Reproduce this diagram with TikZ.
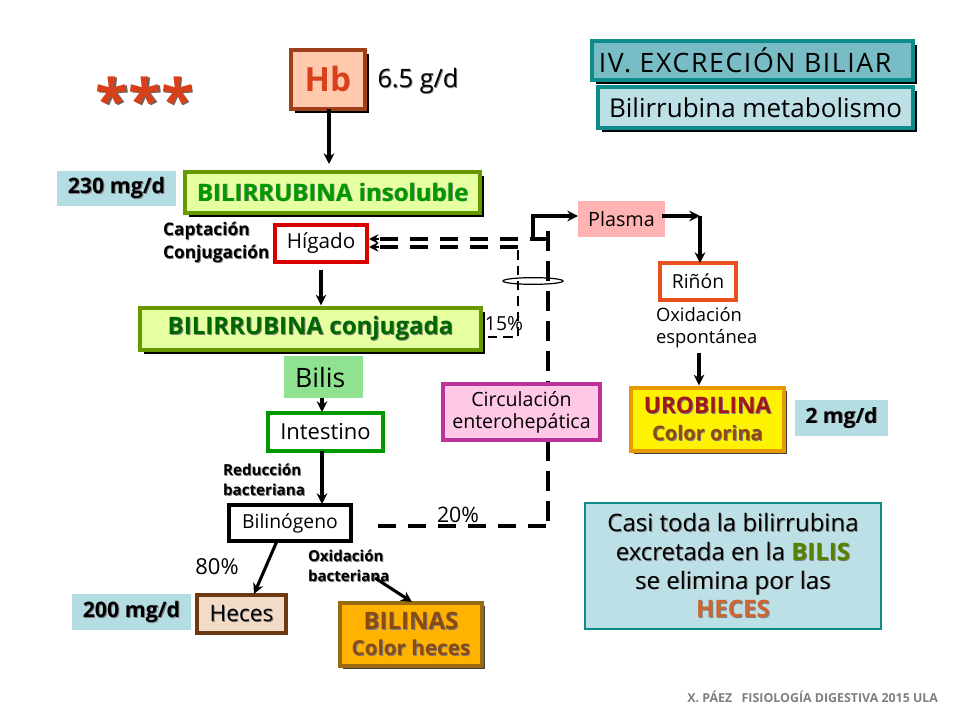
\documentclass[tikz,border=0pt]{standalone}
\usepackage{fontspec}
\usetikzlibrary{arrows.meta,shadows,calc,shapes.geometric}
\setmainfont{Open Sans}
\newcommand\fz[1]{\fontsize{#1}{#1}\selectfont}
\newcommand\fl[2]{\fontsize{#1}{#2}\selectfont}
\newcommand\boxn[7]{\node[#1,minimum width=0.75pt*(#4-#2),minimum height=0.75pt*(#5-#3)] (#6) at ({(#2+#4)/2},{(#3+#5)/2}) {#7};}
\newcommand\sdw[2]{\leavevmode\rlap{\kern0.7pt\raisebox{-0.7pt}{\textcolor{black!50}{#2}}}\textcolor{#1}{#2}}
\newcommand\sdwb[2]{\leavevmode\rlap{\kern1.1pt\raisebox{-1.1pt}{\textcolor{black!60}{#2}}}\textcolor{#1}{#2}}
\definecolor{hbf}{HTML}{FFC9AD}\definecolor{hbd}{HTML}{A0401A}
\definecolor{grf}{HTML}{E6FFA0}\definecolor{grd}{HTML}{669900}
\definecolor{tealb}{HTML}{0D8C8C}\definecolor{tealm}{HTML}{78BCC6}\definecolor{teall}{HTML}{BDE0E6}
\definecolor{lab}{HTML}{B4DCE3}
\definecolor{hecf}{HTML}{F2DCC8}\definecolor{hecd}{HTML}{6B3A12}
\definecolor{binf}{HTML}{FFB300}\definecolor{bind}{HTML}{9A6A10}\definecolor{bint}{HTML}{8B4A10}
\definecolor{urod}{HTML}{E69A00}\definecolor{urot}{HTML}{A01818}\definecolor{urot2}{HTML}{8F4A10}
\definecolor{cirf}{HTML}{FFC9E6}\definecolor{cird}{HTML}{BB3399}
\definecolor{bilf}{HTML}{8FE28F}\definecolor{plaf}{HTML}{FFB3B3}
\definecolor{rind}{HTML}{E8501E}\definecolor{intd}{HTML}{009900}
\definecolor{starc}{HTML}{D8401A}
\tikzset{
  bx/.style={rectangle,inner sep=0pt,outer sep=0pt,line width=2.4pt,align=center,text=black},
  sh/.style={general shadow={fill=black,shadow xshift=3pt,shadow yshift=-3pt}},
  shthin/.style={general shadow={fill=black!75,shadow xshift=2pt,shadow yshift=-2pt}},
  hbbox/.style={bx,draw=hbd,fill=hbf,sh},
  greenbox/.style={bx,draw=grd,fill=grf,sh},
  tealbox/.style={bx,draw=tealb,sh},
  labbox/.style={bx,fill=lab},
  whitebox/.style={bx,fill=white},
  txt/.style={inner sep=0pt,outer sep=0pt,align=left,text=black},
  arr/.style={line width=2.3pt,-{Stealth[length=8pt,width=8pt]}},
  dashseg/.style={line width=2.7pt},
  dash2/.style={line width=1.7pt,dash pattern=on 7pt off 4.5pt},
  backarr/.style={line width=2pt,-{Stealth[length=7pt,width=7pt]}},
}
\begin{document}
\begin{tikzpicture}[x=0.75pt,y=-0.75pt]
\useasboundingbox (0,0) rectangle (960,720);
% title boxes
\boxn{tealbox,fill=tealm,font=\fz{20}\addfontfeature{LetterSpace=6}}{592}{41}{913}{80}{title}{\hspace*{-11pt}IV. EXCRECIÓN BILIAR}
\boxn{tealbox,fill=teall,font=\fz{19.5}}{598}{87}{913}{128}{sub}{Bilirrubina metabolismo}
% stars
\node[txt,font=\fz{45}\bfseries] (stars) at (145,100) {\sdwb{starc}{***}};
% Hb
\boxn{hbbox,font=\fz{25}\bfseries}{291}{50}{365}{109}{hb}{\textcolor{starc}{Hb}}
\node[txt,font=\fz{19}] (gd) at (418,81) {\sdw{black}{6.5 g/d}};
% bilirrubina
\boxn{greenbox,font=\fz{18}\bfseries}{185}{172}{480}{213}{insol}{\sdw{green!60!black}{BILIRRUBINA insoluble}}
\boxn{labbox,font=\fz{16}\bfseries}{57}{171}{176}{206}{m230}{\sdw{black}{230 mg/d}}
\node[txt,anchor=west,font=\fl{13}{17}\bfseries] (capt) at (163,243) {\sdw{black}{Captación}\\\sdw{black}{Conjugación}};
\boxn{whitebox,draw=red!85!black,font=\fz{15.5}}{275}{225}{367}{262}{hig}{Hígado}
\boxn{greenbox,font=\fz{18}\bfseries}{140}{308}{481}{350}{conj}{\sdw{green!40!black}{BILIRRUBINA conjugada}}
\boxn{bx,fill=bilf,font=\fz{20}}{284}{356}{363}{398}{bilis}{\hspace*{-5pt}Bilis}
\boxn{whitebox,draw=intd,font=\fz{16.5}}{268}{413}{383}{451}{inte}{Intestino}
\node[txt,anchor=west,font=\fl{11.4}{15}\bfseries] (redu) at (223,480) {\sdw{black}{Reducción}\\\sdw{black}{bacteriana}};
\boxn{whitebox,draw=black,font=\fz{14.5}}{229}{505}{351}{541}{bili}{Bilinógeno}
\node[txt,font=\fz{16.5}] (p80) at (217,567) {80\%};
\boxn{labbox,font=\fz{16}\bfseries}{72}{594}{191}{630}{m200}{\sdw{black}{200 mg/d}}
\boxn{bx,fill=hecf,draw=hecd,font=\fz{17}}{197}{595}{286}{633}{hec}{\sdw{black}{Heces}}
\node[txt,anchor=west,font=\fl{11.3}{15}\bfseries] (oxib) at (308,566) {\sdw{black}{Oxidación}\\\sdw{black}{bacteriana}};
\boxn{bx,fill=binf,draw=bind,shthin,font=\fl{15.5}{20}\bfseries}{340}{603}{482}{666}{bilin}{\sdw{bint}{\fl{18}{20}BILINAS}\\\sdw{bint}{Color heces}}
% right side
\boxn{bx,fill=plaf,font=\fz{14.8}}{578}{201}{665}{237}{plas}{Plasma}
\boxn{whitebox,draw=rind,font=\fz{14.5}}{660}{263}{736}{300}{rin}{Riñón}
\node[txt,anchor=west,font=\fl{13.8}{16.5}] (oxie) at (656,328) {Oxidación\\espontánea};
\boxn{bx,fill=yellow,draw=urod,shthin,font=\fl{15}{20}\bfseries}{631}{388}{784}{451}{urob}{\sdw{urot}{\fl{17}{20}UROBILINA}\\\sdw{urot2}{Color orina}}
\boxn{labbox,font=\fz{15.8}\bfseries}{795}{400}{888}{436}{m2}{\sdw{black}{2 mg/d}}
% dashed circuit
\coordinate (corner) at (548,526);
\coordinate (top) at (548,239);
\coordinate (hi2) at (518,247);
\coordinate (lo2) at (518,337);
\coordinate (up1) at (533,239);
\coordinate (up2) at (533,216);
\coordinate (rcorner) at (700,216);
\coordinate (oxstart) at (699,353);
\coordinate (bacstart) at (375,578);
\foreach \d in {0,30,60,90,120,150} \draw[dashseg] ($(corner)+(-\d-2,0)$) -- ++(-18,0);
\foreach \d in {0,30,...,270} \draw[dashseg] ($(corner)+(0,-\d-5)$) -- ++(0,-20);
\foreach \d in {0,30,60,90,120,150} \draw[dashseg] ($(top)+(-\d,0)$) -- ++(-18,0);
\foreach \d in {0,30,60,90,120} \draw[dashseg] ($(hi2)+(-\d,0)$) -- ++(-18,0);
\draw[dash2] ($(conj.east |- lo2)+(7,0)$) -- (lo2) -- (hi2);
\draw[backarr] ($(hig.east |- top)+(12,0)$) -- ($(hig.east |- top)+(2,0)$);
\draw[backarr] ($(hig.east |- hi2)+(12,0)$) -- ($(hig.east |- hi2)+(2,0)$);
\node[ellipse,draw,line width=0.9pt,minimum width=45pt,minimum height=5pt,inner sep=0pt,outer sep=0pt] (ell) at (533,281) {};
% arrows
\draw[arr,shorten >=6pt] ($(hb.south)+(1,0)$) -- ($(hb.south |- insol.north)+(1,0)$);
\draw[arr,shorten <=6pt,shorten >=2pt] (hig.south) -- (hig.south |- conj.north);
\draw[arr] ($(bilis.south)+(-1.5,0)$) -- ($(inte.north)+(-3.5,-1)$);
\draw[arr] ($(inte.south)+(-3.5,0)$) -- ($(bili.north)+(32,-1)$);
\draw[arr] ($(bili.south)+(-13,0)$) -- ($(hec.north)+(12.5,-1)$);
\draw[arr] (bacstart) -- ($(bilin.north)+(1,-1)$);
\draw[arr] (up1) -- (up2) -- (plas.west |- up2);
\draw[arr,shorten <=-2pt] (plas.east |- rcorner) -- (rcorner);
\draw[arr] (rcorner) -- (rcorner |- rin.north);
\draw[arr,shorten >=2pt] (oxstart) -- (oxstart |- urob.north);
% circulacion
\boxn{bx,fill=cirf,draw=cird,font=\fl{14.7}{16.5}}{443}{384}{600}{440}{circ}{Circulación\\enterohepática}
\node[txt,font=\fz{14.5}] (p15) at (504,324) {15\%};
\node[txt,font=\fz{16}] (p20) at (458,515) {20\%};
% info
\boxn{bx,line width=0.8pt,draw=tealb,fill=teall,font=\fl{18}{21.7}}{585}{503}{881}{629}{info}{\sdw{black}{Casi toda la bilirrubina}\\\leavevmode\rlap{\kern0.7pt\raisebox{-0.7pt}{\textcolor{black!50}{excretada en la \textbf{BILIS}}}}excretada en la \textbf{\textcolor{grd!85!black}{BILIS}}\\\sdw{black}{se elimina por las}\\\textbf{\sdw{brown!80!red}{HECES}}}
\node[txt,anchor=east,text=black!50,font=\fz{9.3}\bfseries] (foot) at (938,697) {X. PÁEZ\hspace{0.5em} FISIOLOGÍA DIGESTIVA 2015 ULA};
\end{tikzpicture}
\end{document}
